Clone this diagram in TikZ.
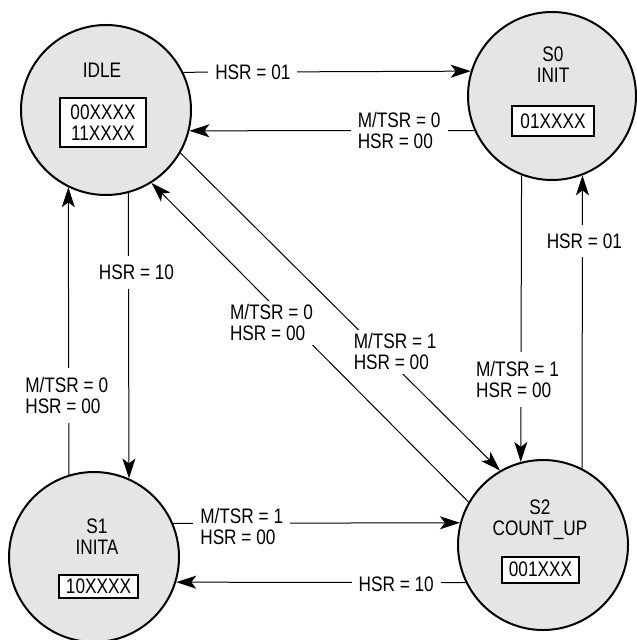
\documentclass[tikz,border=0pt]{standalone}
\usepackage{fontspec}
\setmainfont{Liberation Sans}[FakeStretch=0.82]
\usetikzlibrary{arrows.meta}
\begin{document}
\begin{tikzpicture}[x=0.5pt,y=-0.5pt,
  every node/.style={font=\fontsize{10.5}{10.5}\selectfont},
  stnode/.style={circle,draw,line width=1pt,fill=gray!20,minimum size=85pt,inner sep=0pt},
  codebox/.style={draw,line width=1pt,fill=white,inner sep=0pt,align=center},
  sname/.style={align=center,inner sep=0pt},
  trans/.style={line width=0.5pt,-{Stealth[length=10pt,width=6.5pt,inset=2.5pt]}},
  lbl/.style={fill=white,inner xsep=3.5pt,inner ysep=4.5pt,align=left}]
\useasboundingbox (0,0) rectangle (636,640);

% states
\node[stnode] (idle) at (106,110) {};
\node[stnode,minimum size=84pt] (s0) at (552,96) {};
\node[stnode] (s1) at (94,557) {};
\node[stnode] (s2) at (543,545) {};

% state texts
\node[sname] (idlename) at (102,70) {IDLE};
\node[codebox,minimum width=43pt,minimum height=24.5pt] (idlebox) at (103,122.5) {00XXXX\\11XXXX};
\node[sname] (s0name) at (553,65) {S0\\INIT};
\node[codebox,minimum width=41pt,minimum height=15pt] (s0box) at (553,121) {01XXXX};
\node[sname] (s1name) at (97,536.5) {S1\\INITA};
\node[codebox,minimum width=39.5pt,minimum height=11.5pt] (s1box) at (98.5,586.5) {10XXXX};
\node[sname] (s2name) at (540,519.5) {S2\\COUNT\_UP};
\node[codebox,minimum width=38.5pt,minimum height=13pt] (s2box) at (540.5,569.5) {001XXX};

% transitions
\draw[trans] (idle.26.6) -- node[lbl,pos=0.242] (l1) {HSR = 01} (s0.163.4);
\draw[trans] (s0.204.6) -- node[lbl,pos=0.264] (l2) {M/TSR = 0\\HSR = 00} (idle.-14.3);
\draw[trans] (idle.-75) -- node[lbl,pos=0.279,xshift=4pt] (l3) {HSR = 10} (s1.66.4);
\draw[trans] (s1.107.8) -- node[lbl,pos=0.276,xshift=-1pt] (l4) {M/TSR = 0\\HSR = 00} (idle.-116.6);
\draw[trans] (s1.23.6) -- node[lbl,pos=0.239,yshift=-1.75pt] (l5) {M/TSR = 1\\HSR = 00} (s2.165);
\draw[trans] (s2.206.6) -- node[lbl,pos=0.24,yshift=-1pt] (l6) {HSR = 10} (s1.-17.8);
\draw[trans] (s0.-111.7) -- node[lbl,pos=0.713,xshift=-1.75pt] (l7) {M/TSR = 1\\HSR = 00} (s2.105);
\draw[trans] (s2.63.4) -- node[lbl,pos=0.776,xshift=1pt] (l8) {HSR = 01} (s0.-69.8);
\draw[trans] (idle.-30) -- node[lbl,pos=0.649,xshift=3.65pt,yshift=3.65pt,inner ysep=2pt,inner xsep=2pt] (l9) {M/TSR = 1\\HSR = 00} (s2.120);
\draw[trans] (s2.150) -- node[lbl,pos=0.5915,xshift=-4.8pt,yshift=-4.75pt,inner ysep=2pt,inner xsep=2pt] (l10) {M/TSR = 0\\HSR = 00} (idle.-58);
\end{tikzpicture}
\end{document}
